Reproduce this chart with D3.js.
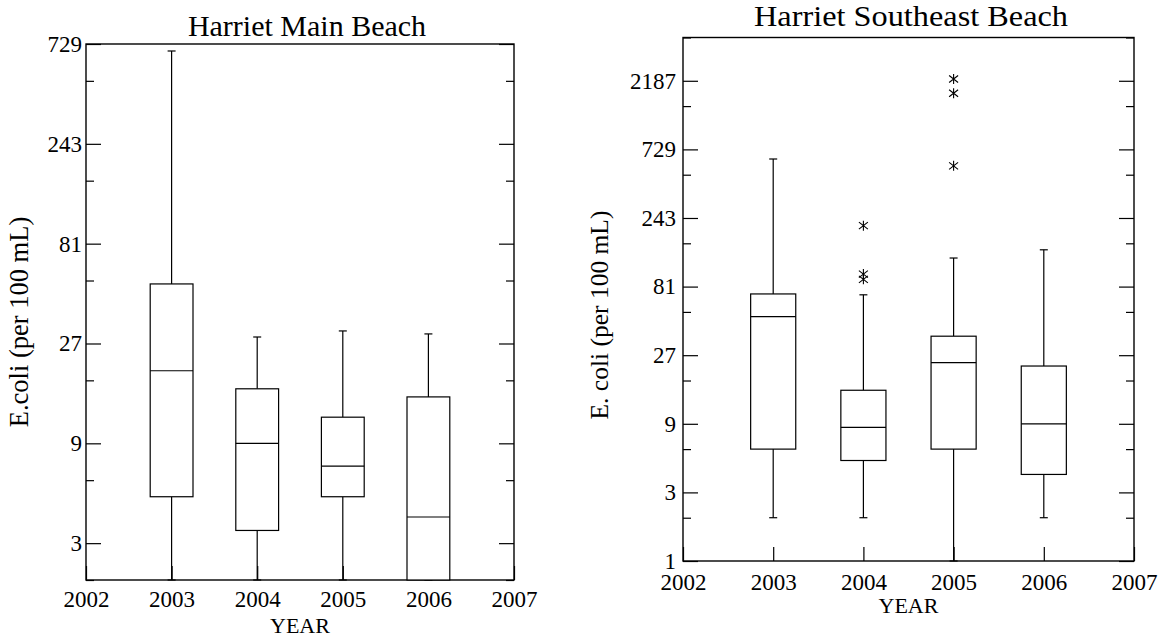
<!DOCTYPE html>
<html>
<head>
<meta charset="utf-8">
<script src="https://cdn.jsdelivr.net/npm/d3@7"></script>
<style>
  html, body { margin: 0; padding: 0; background: #fff; }
  svg { display: block; }
  svg text { font-family: "Liberation Serif", "DejaVu Serif", serif !important; fill: #000; }
</style>
</head>
<body>
<svg id="chart" width="1162" height="638"></svg>
<script>
// ---- Data ----
const years = [2003, 2004, 2005, 2006];
const xTickYears = [2002, 2003, 2004, 2005, 2006, 2007];

// Harriet Main Beach
const mainWhiskerLow  = [2, 2, 2, 2];
const mainQ1          = [5.0, 3.45, 5.0, 2];
const mainMedian      = [20, 9, 7, 4];
const mainQ3          = [52, 16.4, 12, 15];
const mainWhiskerHigh = [675, 29, 31, 30];
const mainYTicks      = [3, 9, 27, 81, 243, 729];
const mainYMinor      = [2, 6, 18, 54, 162, 486];
const mainYDomain     = [2, 729];

// Harriet Southeast Beach
const seWhiskerLow  = [2, 2, 1, 2];
const seQ1          = [6, 5, 6, 4];
const seMedian      = [50, 8.5, 24, 9];
const seQ3          = [72, 15.4, 36.6, 22.7];
const seWhiskerHigh = [625, 71, 128, 146];
const seOutlierYears  = [2004, 2004, 2004, 2005, 2005, 2005];
const seOutlierValues = [215, 99, 91, 2250, 1790, 560];
const seYTicks      = [1, 3, 9, 27, 81, 243, 729, 2187];
const seYMinor      = [2, 6, 18, 54, 162, 486, 1458, 4374];
const seYDomain     = [1, 4374];

const FONT = "'Liberation Serif', 'DejaVu Serif', serif";
const svg = d3.select("#chart");

function drawPanel(cfg) {
  const g = svg.append("g");
  const x = d3.scaleLinear().domain([2002, 2007]).range([cfg.left, cfg.right]);
  const y = d3.scaleLog().base(3).domain(cfg.yDomain).range([cfg.bottom, cfg.top]);

  const lw = 1.2;

  // Left axis major (with labels)
  const gl = g.append("g").attr("transform", `translate(${cfg.left},0)`)
    .call(d3.axisLeft(y).tickValues(cfg.yTicks).tickSize(-15).tickPadding(cfg.yPad)
      .tickFormat(d3.format("d")));
  gl.attr("font-family", FONT).attr("font-size", cfg.tickFont);
  gl.select(".domain").remove();
  gl.selectAll("line").attr("stroke", "#000").attr("stroke-width", lw);

  // Left minor
  const glm = g.append("g").attr("transform", `translate(${cfg.left},0)`)
    .call(d3.axisLeft(y).tickValues(cfg.yMinor).tickSize(-8).tickFormat(""));
  glm.select(".domain").remove();
  glm.selectAll("line").attr("stroke", "#000").attr("stroke-width", lw);

  // Right major & minor (inward, no labels)
  const gr = g.append("g").attr("transform", `translate(${cfg.right},0)`)
    .call(d3.axisRight(y).tickValues(cfg.yTicks).tickSize(-15).tickFormat(""));
  gr.select(".domain").remove();
  gr.selectAll("line").attr("stroke", "#000").attr("stroke-width", lw);
  const grm = g.append("g").attr("transform", `translate(${cfg.right},0)`)
    .call(d3.axisRight(y).tickValues(cfg.yMinor).tickSize(-8).tickFormat(""));
  grm.select(".domain").remove();
  grm.selectAll("line").attr("stroke", "#000").attr("stroke-width", lw);

  // Bottom axis
  const gb = g.append("g").attr("transform", `translate(0,${cfg.bottom})`)
    .call(d3.axisBottom(x).tickValues(xTickYears).tickSize(-14).tickPadding(cfg.xPad)
      .tickFormat(d3.format("d")));
  gb.attr("font-family", FONT).attr("font-size", cfg.tickFont);
  gb.select(".domain").remove();
  gb.selectAll("line").attr("stroke", "#000").attr("stroke-width", lw);

  // Frame
  g.append("rect")
    .attr("x", cfg.left).attr("y", cfg.top)
    .attr("width", cfg.right - cfg.left).attr("height", cfg.bottom - cfg.top)
    .attr("fill", "none").attr("stroke", "#000").attr("stroke-width", 1.4);

  // Boxes
  const hw = x(2002.25) - x(2002);
  const cap = 4;
  const data = years.map((yr, i) => ({
    yr, lo: cfg.wl[i], q1: cfg.q1[i], med: cfg.med[i], q3: cfg.q3[i], hi: cfg.wh[i]
  }));
  const bg = g.append("g").attr("stroke", "#000").attr("stroke-width", lw).attr("fill", "none");
  data.forEach(d => {
    const cx = x(d.yr);
    bg.append("line").attr("x1", cx).attr("x2", cx).attr("y1", y(d.q3)).attr("y2", y(d.hi));
    bg.append("line").attr("x1", cx).attr("x2", cx).attr("y1", y(d.q1)).attr("y2", y(d.lo));
    bg.append("line").attr("x1", cx - cap).attr("x2", cx + cap).attr("y1", y(d.hi)).attr("y2", y(d.hi));
    bg.append("line").attr("x1", cx - cap).attr("x2", cx + cap).attr("y1", y(d.lo)).attr("y2", y(d.lo));
    bg.append("rect").attr("x", cx - hw).attr("width", 2 * hw)
      .attr("y", y(d.q3)).attr("height", y(d.q1) - y(d.q3)).attr("fill", "#fff");
    bg.append("line").attr("x1", cx - hw).attr("x2", cx + hw).attr("y1", y(d.med)).attr("y2", y(d.med));
  });

  // Outliers (asterisks)
  if (cfg.outYears) {
    const og = g.append("g").attr("stroke", "#000").attr("stroke-width", 1.1);
    cfg.outYears.forEach((yr, i) => {
      const cx = x(yr), cy = y(cfg.outVals[i]);
      const r = 5;
      og.append("path").attr("d",
        `M${cx},${cy - r}L${cx},${cy + r}` +
        `M${cx - 4.5},${cy - 3.5}L${cx + 4.5},${cy + 3.5}` +
        `M${cx - 4.5},${cy + 3.5}L${cx + 4.5},${cy - 3.5}`);
    });
  }

  // Title
  const t = g.append("text").attr("x", cfg.titleX).attr("y", cfg.titleY)
    .attr("text-anchor", "middle").attr("font-family", FONT)
    .attr("font-size", cfg.titleFont).text(cfg.title);
  if (cfg.titleLen) t.attr("textLength", cfg.titleLen).attr("lengthAdjust", "spacingAndGlyphs");
  // X label
  g.append("text").attr("x", (cfg.left + cfg.right) / 2).attr("y", cfg.xLabelY)
    .attr("text-anchor", "middle").attr("font-family", FONT)
    .attr("font-size", 22).text("YEAR");
  // Y label
  g.append("text").attr("transform", `translate(${cfg.yLabelX},${cfg.yLabelCY}) rotate(-90)`)
    .attr("text-anchor", "middle").attr("font-family", FONT)
    .attr("font-size", cfg.yLabelFont).text(cfg.yLabel);
}

drawPanel({
  left: 86, right: 514, top: 44, bottom: 580,
  yDomain: mainYDomain, yTicks: mainYTicks, yMinor: mainYMinor,
  wl: mainWhiskerLow, q1: mainQ1, med: mainMedian, q3: mainQ3, wh: mainWhiskerHigh,
  title: "Harriet Main Beach", titleX: 307, titleY: 36, titleFont: 30,
  yLabel: "E.coli (per 100 mL)", yLabelX: 28, yLabelCY: 322, yLabelFont: 26.5,
  xLabelY: 633, tickFont: 23, yPad: 4, xPad: 11
});

drawPanel({
  left: 683, right: 1134, top: 37.5, bottom: 561,
  yDomain: seYDomain, yTicks: seYTicks, yMinor: seYMinor,
  wl: seWhiskerLow, q1: seQ1, med: seMedian, q3: seQ3, wh: seWhiskerHigh,
  outYears: seOutlierYears, outVals: seOutlierValues,
  title: "Harriet Southeast Beach", titleX: 911, titleY: 26, titleFont: 29, titleLen: 314,
  yLabel: "E. coli (per 100 mL)", yLabelX: 608, yLabelCY: 315, yLabelFont: 25.5,
  xLabelY: 613, tickFont: 23, yPad: 7, xPad: 13
});
</script>
</body>
</html>
